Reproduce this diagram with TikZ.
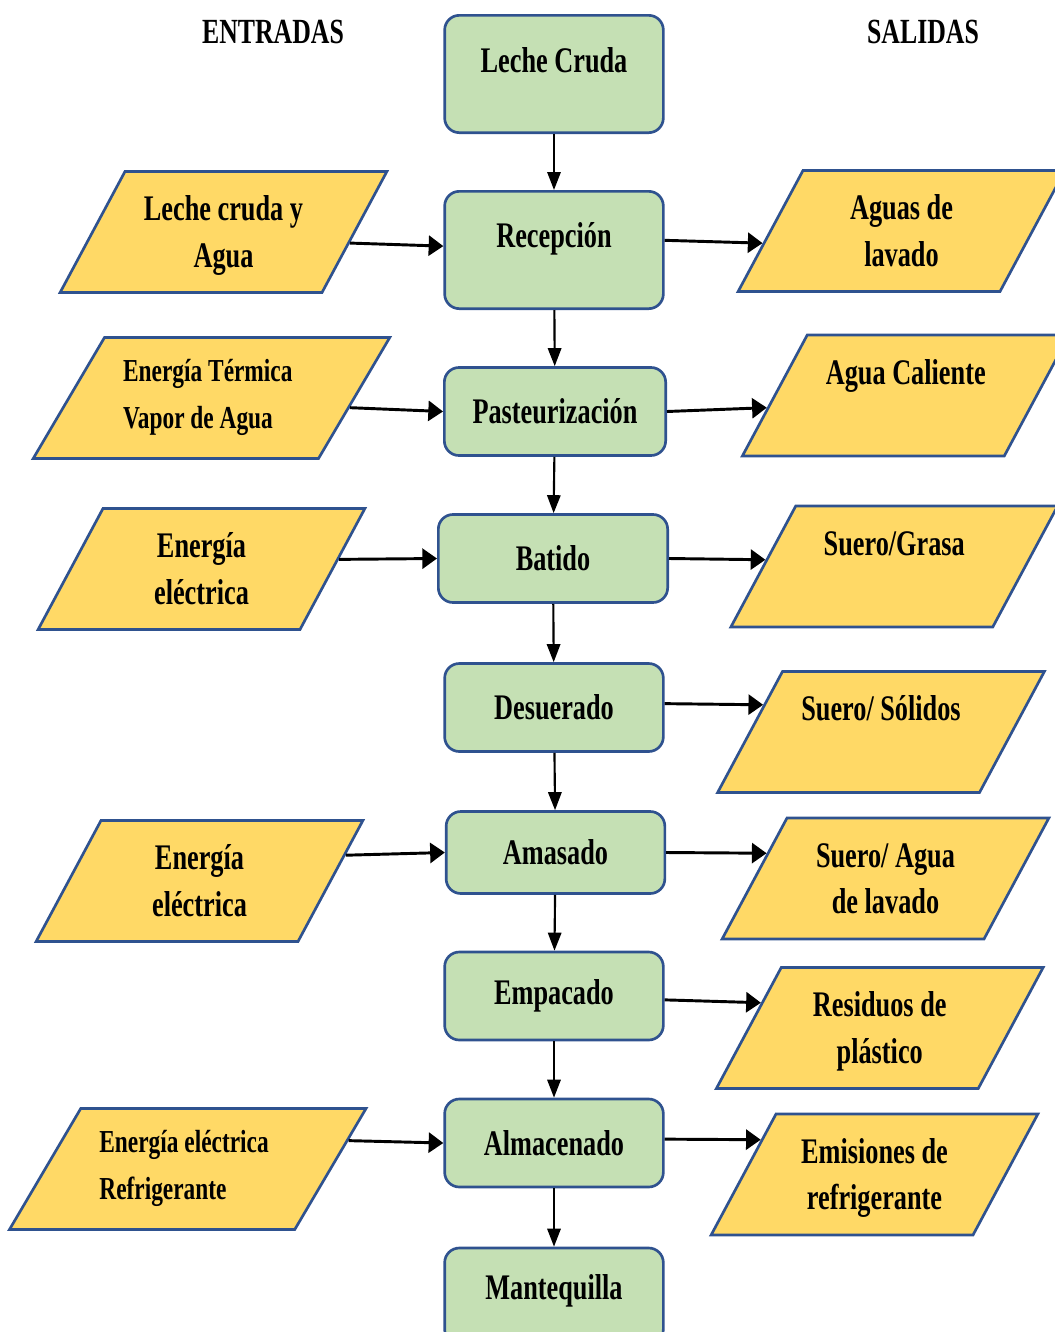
\documentclass[tikz,border=0pt]{standalone}
\usepackage{fontspec}
\setmainfont{Liberation Serif}[FakeStretch=0.73]
\usetikzlibrary{shapes.geometric,arrows.meta}
\definecolor{azul}{RGB}{47,82,143}
\definecolor{verde}{RGB}{197,224,180}
\definecolor{amarillo}{RGB}{255,217,102}
\begin{document}
\begin{tikzpicture}[x=0.75pt, y=-0.75pt,
    proceso/.style={draw=azul, line width=2pt, fill=verde, rounded corners=11pt,
        minimum width=164pt, minimum height=66pt, align=center,
        font=\fontsize{27}{35}\selectfont\bfseries},
    dato/.style={trapezium, trapezium left angle=61.8, trapezium right angle=118.2,
        draw=azul, line width=2pt, fill=amarillo, inner sep=0pt,
        text width=147.75pt, text height=36.75pt, text depth=54pt, align=flush center,
        font=\fontsize{27}{35}\selectfont\bfseries},
    datochico/.style={font=\fontsize{24}{35}\selectfont\bfseries, align=flush left,
        trapezium left angle=59.5, trapezium right angle=120.5,
        inner xsep=14pt, text width=132.5pt, text height=33pt, text depth=57.75pt},
    titulo/.style={font=\fontsize{26.5}{30}\selectfont\bfseries},
    flecha/.style={line width=1.6pt, -{Triangle[length=13.5pt,width=10pt]}},
    flechah/.style={line width=2.2pt, -{Triangle[length=11pt,width=15pt]}}]
    \useasboundingbox (0,0) rectangle (1055,1332);
    \clip (0,0) rectangle (1055,1332);

    \node[titulo] (entradas) at (273,32) {ENTRADAS};
    \node[titulo] (salidas) at (923,32) {SALIDAS};

    \node[proceso, minimum height=88pt, text depth=21pt] (leche) at (554,74) {Leche Cruda};
    \node[proceso, minimum height=88pt, text depth=23pt] (recepcion) at (554,250) {Recepción};
    \node[proceso, minimum width=166pt] (pasteurizacion) at (555,411.5) {Pasteurización};
    \node[proceso, minimum width=172pt] (batido) at (553,558.5) {Batido};
    \node[proceso] (desuerado) at (554,707.5) {Desuerado};
    \node[proceso, minimum height=61.5pt] (amasado) at (555.5,852.5) {Amasado};
    \node[proceso] (empacado) at (554,996) {Empacado};
    \node[proceso] (almacenado) at (554,1143) {Almacenado};
    \node[proceso, minimum height=72pt, text depth=14pt] (mantequilla) at (554,1296) {Mantequilla};

    \node[dato] (lecheagua) at (223.5,232) {Leche cruda y\\Agua};
    \node[dato, datochico] (vapor) at (211.5,398) {Energía Térmica\\Vapor de Agua};
    \node[dato] (elec1) at (201.5,569) {Energía\\eléctrica};
    \node[dato] (elec2) at (199.5,881) {Energía\\eléctrica};
    \node[dato, datochico] (refrig) at (187.75,1169) {Energía eléctrica\\Refrigerante};

    \node[dato] (aguaslavado) at (901.5,231) {Aguas de\\lavado};
    \node[dato] (aguacaliente) at (905.75,395.5) {Agua Caliente};
    \node[dato] (suerograsa) at (894.25,566.5) {Suero/Grasa};
    \node[dato] (suerosolidos) at (881,732) {Suero/ Sólidos};
    \node[dato] (sueroagua) at (885.5,878.5) {Suero/ Agua\\de lavado};
    \node[dato] (residuos) at (879.75,1028) {Residuos de\\plástico};
    \node[dato] (emisiones) at (874.5,1174.5) {Emisiones de\\refrigerante};

    \draw[flecha] (leche) -- (recepcion);
    \draw[flecha] (recepcion) -- (pasteurizacion);
    \draw[flecha] (pasteurizacion) -- (batido);
    \draw[flecha] (batido) -- (desuerado);
    \draw[flecha] (desuerado) -- (amasado);
    \draw[flecha] (amasado) -- (empacado);
    \draw[flecha] (empacado) -- (almacenado);
    \draw[flecha] (almacenado) -- (mantequilla);

    \draw[flechah] (lecheagua.-5.5) -- (recepcion.178);
    \draw[flechah] (vapor.-4.6) -- (pasteurizacion.west);
    \draw[flechah] (elec1.4.6) -- (batido.west);
    \draw[flechah] (elec2.10.5) -- (amasado.west);
    \draw[flechah] (refrig.10.6) -- (almacenado.west);

    \draw[flechah] (recepcion.5) -- (aguaslavado.185);
    \draw[flechah] (pasteurizacion.east) -- (aguacaliente.185.9);
    \draw[flechah] (batido.east) -- (suerograsa.177.6);
    \draw[flechah] (desuerado.2.3) -- (suerosolidos.167);
    \draw[flechah] (amasado.east) -- (sueroagua.168.8);
    \draw[flechah] (empacado.-2.6) -- (residuos.168.1);
    \draw[flechah] (almacenado.2) -- (emisiones.163.6);
\end{tikzpicture}
\end{document}
